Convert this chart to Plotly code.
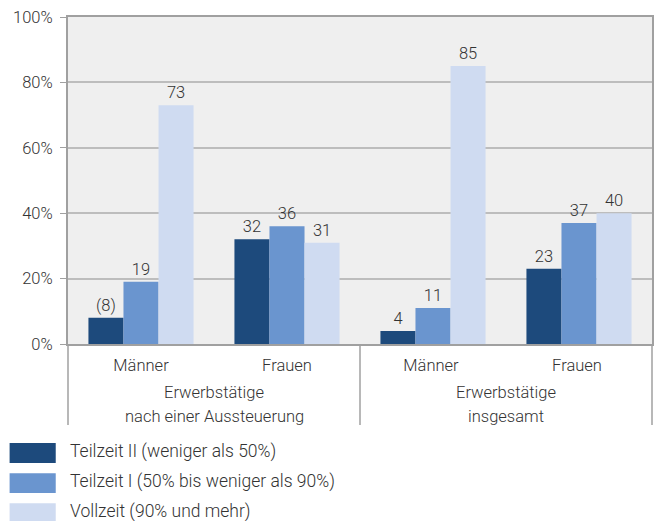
import plotly.graph_objects as go

categories = ["Männer", "Frauen", "Männer ", "Frauen "]
group_labels = [["Erwerbstätige", "nach einer Aussteuerung"], ["Erwerbstätige", "insgesamt"]]
series_names = [
    "Teilzeit II (weniger als 50%)",
    "Teilzeit I (50% bis weniger als 90%)",
    "Vollzeit (90% und mehr)",
]
teilzeit_2 = [8, 32, 4, 23]
teilzeit_1 = [19, 36, 11, 37]
vollzeit = [73, 31, 85, 40]
teilzeit_2_text = ["(8)", "32", "4", "23"]
y_ticks = [0, 20, 40, 60, 80, 100]
y_tick_text = ["0%", "20%", "40%", "60%", "80%", "100%"]

colors = ["#1d4a7c", "#6a95cf", "#cfdbf1"]
text_color = "#333333"
line_color = "#a0a0a0"
font = dict(family="Roboto", size=16.5, color=text_color, weight=300)
legend_font = dict(family="Roboto", size=17.5, color=text_color, weight=300)

fig = go.Figure()
all_values = [teilzeit_2, teilzeit_1, vollzeit]
all_text = [teilzeit_2_text, [str(v) for v in teilzeit_1], [str(v) for v in vollzeit]]
for name, values, text, color in zip(series_names, all_values, all_text, colors):
    fig.add_trace(go.Bar(
        x=categories, y=values, name=name, marker_color=color, marker_line_width=0,
        text=text, textposition="outside", textfont=font,
        cliponaxis=False, showlegend=False,
    ))

# separators below the plot area
for xpos in [0, 0.5, 1]:
    fig.add_shape(type="line", xref="paper", yref="paper", x0=xpos, x1=xpos,
                  y0=-0.248, y1=0, line=dict(color=line_color, width=1.5))

# group labels, one annotation per line
for i, lines in enumerate(group_labels):
    for j, line in enumerate(lines):
        fig.add_annotation(text=line, xref="paper", yref="paper", x=0.25 + 0.5 * i,
                           y=-0.149 - j * 0.073, xanchor="center", yanchor="middle",
                           showarrow=False, font=font)

# custom legend with wide swatches
for i, (name, color) in enumerate(zip(series_names, colors)):
    y_top = -0.303 - i * 0.092
    fig.add_shape(type="rect", xref="paper", yref="paper",
                  x0=-0.1, x1=-0.021, y0=y_top - 0.061, y1=y_top,
                  fillcolor=color, line=dict(width=0))
    fig.add_annotation(text=name, xref="paper", yref="paper", x=0.0,
                       y=y_top - 0.026, xanchor="left", yanchor="middle",
                       showarrow=False, font=legend_font)

fig.update_layout(
    width=660, height=521,
    margin=dict(l=68, r=8, t=17, b=177, autoexpand=False),
    plot_bgcolor="#efefef", paper_bgcolor="white",
    barmode="group", bargap=0.28, bargroupgap=0,
    font=font,
)
fig.update_xaxes(showline=True, linecolor=line_color, linewidth=2, mirror=True,
                 ticks="", tickfont=font, showgrid=False, ticklabelstandoff=5)
fig.update_yaxes(range=[0, 100], tickmode="array", tickvals=y_ticks, ticktext=y_tick_text,
                 showline=True, linecolor=line_color, linewidth=2, mirror=True,
                 gridcolor="#bdbdbd", gridwidth=1.5, ticks="outside", ticklen=6,
                 tickcolor=line_color, tickfont=font, zeroline=False, ticklabelstandoff=4)

fig.write_html("out.html", config={"displayModeBar": False},
               post_script="document.body.style.margin='0';")
